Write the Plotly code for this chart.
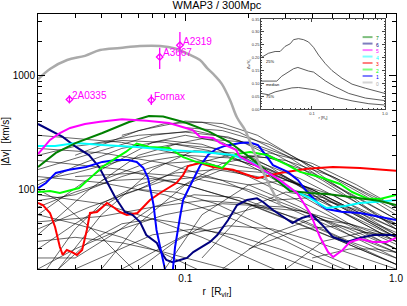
import math
import plotly.graph_objects as go

# ---------------- data ----------------
grey_x = [0.020, 0.0228, 0.0275, 0.0334, 0.0394, 0.049, 0.061, 0.0759, 0.0894, 0.1053, 0.1174, 0.127, 0.1384, 0.149, 0.163, 0.176, 0.192, 0.21, 0.226, 0.242, 0.258, 0.2815]
grey_y = [930, 1150, 1378, 1500, 1688, 1760, 1830, 1830, 1740, 1530, 1378, 1170, 1000, 850, 613, 430, 334, 223, 164, 125, 99, 73]

magenta_x = [0.02, 0.0228, 0.0254, 0.0284, 0.0334, 0.0394, 0.0501, 0.0655, 0.0837, 0.1082, 0.1174, 0.1353, 0.1462, 0.174, 0.1818, 0.2262, 0.2815, 0.339, 0.3907, 0.4358, 0.476, 0.503, 0.558, 0.6049, 0.6748, 0.777, 0.905, 1.0]
magenta_y = [205, 273, 314, 348, 377, 395, 415, 403, 385, 334, 291, 284, 257, 223, 194, 155, 121, 93.2, 62.2, 38.2, 28.2, 25.5, 29.4, 34.6, 36.7, 34.6, 34.6, 37.5]

dkgreen_x = [0.02, 0.0243, 0.0303, 0.0404, 0.0541, 0.0672, 0.0785, 0.1008, 0.1296, 0.161, 0.1818, 0.2262, 0.2606, 0.3141, 0.3907, 0.469, 0.5728, 0.6748, 0.8398, 1.0]
dkgreen_y = [158, 210, 257, 314, 393, 444, 438, 387, 323, 263, 223, 164, 129, 97, 93.4, 91.3, 87.4, 83.6, 79.3, 73.1]

cyan_x = [0.02, 0.0241, 0.0303, 0.0404, 0.0588, 0.0837, 0.1207, 0.1684, 0.2097, 0.2606, 0.3229, 0.3907, 0.469, 0.5728, 0.6748, 0.821, 1.0]
cyan_y = [242, 242, 257, 246, 237, 223, 214, 201, 171, 129, 99, 84.2, 68.8, 71.6, 76.1, 77.9, 80.9]

lime_x = [0.02, 0.0228, 0.0254, 0.0284, 0.0313, 0.0353, 0.0404, 0.0468, 0.0522, 0.0588, 0.0672, 0.0837, 0.0978, 0.1125, 0.1353, 0.1497, 0.174, 0.2028, 0.2443, 0.306, 0.3503, 0.4358, 0.5423, 0.6195, 0.727, 0.8398, 1.0]
lime_y = [95.1, 97.1, 93.2, 99.1, 103, 126, 158, 189, 214, 254, 237, 232, 193, 175, 164, 155, 205, 214, 201, 164, 143, 129, 112, 95.1, 83.6, 82.5, 89.5]

blue_x = [0.02, 0.0218, 0.0243, 0.0281, 0.0338, 0.0404, 0.0468, 0.0535, 0.0588, 0.0632, 0.0666, 0.0686, 0.0707, 0.073, 0.0767, 0.0794, 0.0831, 0.0874, 0.0894, 0.0944, 0.0976, 0.103, 0.1087, 0.1174, 0.1282, 0.1399, 0.1543, 0.1818, 0.2028, 0.2214, 0.2389, 0.2606, 0.306, 0.3428, 0.379, 0.4247, 0.469, 0.5504, 0.6748, 0.8058, 1.0]
blue_y = [103, 114, 140, 149, 158, 175, 182, 182, 175, 155, 126, 99.1, 73.1, 44.1, 28.2, 20, 14.5, 20, 31.2, 57.3, 80.9, 99.1, 121, 161, 201, 227, 242, 257, 259, 246, 205, 164, 143, 121, 95.1, 76.1, 67.4, 63.8, 62.2, 58.5, 54.0]

navy_x = [0.02, 0.0226, 0.0262, 0.0303, 0.0349, 0.039, 0.0421, 0.0464, 0.0517, 0.0563, 0.061, 0.0653, 0.0733, 0.0772, 0.0813, 0.0869, 0.0944, 0.1019, 0.1091, 0.1174, 0.131, 0.1419, 0.1597, 0.1762, 0.1962, 0.2189, 0.2339, 0.2606, 0.306, 0.3229, 0.3572, 0.3996, 0.4466, 0.5022, 0.5841, 0.6748, 0.777, 1.0]
navy_y = [377, 334, 290, 237, 201, 158, 121, 86, 63.4, 59.7, 51.8, 39.8, 33.9, 27.7, 24.0, 23.0, 24.0, 25.0, 28.2, 30.6, 34.6, 39.8, 54.0, 73.1, 80.9, 83.6, 77.7, 66.1, 54.0, 50.8, 56.2, 59.7, 48.8, 38.2, 34.6, 37.5, 39.8, 39.8]

red_x = [0.02, 0.0211, 0.0228, 0.0241, 0.0254, 0.0262, 0.0274, 0.029, 0.0306, 0.0324, 0.0341, 0.0353, 0.0381, 0.0425, 0.0455, 0.049, 0.0528, 0.0593, 0.0632, 0.068, 0.0759, 0.0828, 0.0907, 0.0976, 0.103, 0.1174, 0.1353, 0.1684, 0.2028, 0.2189, 0.2469, 0.2815, 0.379, 0.5022, 0.6748, 0.905, 1.0]
red_y = [76.1, 73.1, 62.2, 46.8, 31.2, 26.6, 29.4, 28.2, 26.6, 29.4, 44.1, 62.2, 63.4, 76.1, 70.2, 63.4, 59.7, 62.2, 70.2, 80.9, 93.2, 103, 114, 134, 161, 171, 158, 149, 132, 126, 132, 140, 152, 158, 155, 149, 146]

# individual (thin black) halo profiles
halo_x = [
    [0.02, 0.04, 0.07, 0.1, 0.15, 0.25, 0.4, 0.7, 1.0],
    [0.02, 0.035, 0.06, 0.09, 0.14, 0.22, 0.35, 0.6, 1.0],
    [0.025, 0.04, 0.07, 0.11, 0.17, 0.3, 0.5, 1.0],
    [0.02, 0.04, 0.07, 0.11, 0.18, 0.3, 0.5, 1.0],
    [0.03, 0.06, 0.1, 0.15, 0.22, 0.35, 0.6, 1.0],
    [0.05, 0.08, 0.12, 0.18, 0.3, 0.5, 1.0],
    [0.02, 0.03, 0.05, 0.08, 0.12, 0.2, 0.35, 0.6, 1.0],
    [0.02, 0.03, 0.05, 0.08, 0.13, 0.22, 0.4, 0.7, 1.0],
    [0.04, 0.06, 0.1, 0.15, 0.25, 0.4, 0.7, 1.0],
    [0.08, 0.12, 0.2, 0.3, 0.5, 0.8, 1.0],
    [0.12, 0.2, 0.3, 0.45, 0.7, 1.0],
    [0.02, 0.03, 0.05, 0.08, 0.12, 0.2, 0.35, 0.6, 1.0],
    [0.02, 0.03, 0.045, 0.07, 0.11, 0.18, 0.3, 0.5, 1.0],
    [0.02, 0.05, 0.1, 0.2, 0.4, 1.0],
    [0.02, 0.04, 0.08, 0.15, 0.3, 0.6, 1.0],
    [0.02, 0.05, 0.1, 0.2, 0.4, 1.0],
    [0.02, 0.04, 0.08, 0.15, 0.3, 0.5, 0.7],
    [0.02, 0.04, 0.07, 0.12, 0.2, 0.3],
    [0.02, 0.03, 0.05, 0.08, 0.12],
    [0.03, 0.06, 0.1, 0.2, 0.4, 0.7, 1.0],
    [0.02, 0.03, 0.05, 0.08, 0.15, 0.3, 0.6, 1.0],
    [0.025, 0.035, 0.05, 0.07, 0.1, 0.15, 0.25, 0.4],
    [0.06, 0.09, 0.14, 0.22, 0.35, 0.6, 1.0],
    [0.15, 0.25, 0.4, 0.6, 1.0],
    [0.3, 0.45, 0.7, 1.0],
    [0.02, 0.035, 0.06, 0.09, 0.14, 0.25, 0.45, 0.7],
    [0.02, 0.03, 0.045, 0.07, 0.1, 0.18, 0.3, 0.55, 1.0],
    [0.04, 0.07, 0.1, 0.16, 0.25, 0.45, 0.8, 1.0],
    [0.06, 0.1, 0.16, 0.25, 0.4, 0.7, 1.0],
    [0.09, 0.15, 0.25, 0.4, 0.65, 1.0],
    [0.02, 0.03, 0.05, 0.08, 0.13, 0.22, 0.4, 0.7, 1.0],
    [0.035, 0.06, 0.1, 0.16, 0.26, 0.45, 0.8, 1.0],
    [0.1, 0.15, 0.25, 0.4, 0.7, 1.0],
    [0.07, 0.12, 0.2, 0.35, 0.6, 1.0],
    [0.2, 0.3, 0.5, 0.8, 1.0],
    [0.02, 0.03, 0.05, 0.08, 0.13, 0.2],
    [0.05, 0.07, 0.1, 0.16, 0.26, 0.45, 0.75, 1.0],
    [0.2, 0.35, 0.55, 0.8, 1.0],
    [0.02, 0.025, 0.03, 0.04, 0.05, 0.06],
    [0.022, 0.03, 0.04, 0.06, 0.09, 0.14, 0.22, 0.4, 0.7, 1.0],
    [0.02, 0.04, 0.07, 0.12, 0.2, 0.35, 0.6, 1.0],
    [0.03, 0.045, 0.07, 0.11, 0.17, 0.28, 0.45, 0.6],
    [0.4, 0.6, 0.8, 1.0],
    [0.25, 0.4, 0.6, 1.0],
    [0.02, 0.03, 0.05, 0.08, 0.12, 0.2, 0.35, 0.6, 1.0],
]
halo_y = [
    [60, 150, 260, 300, 260, 160, 90, 50, 35],
    [40, 100, 200, 250, 230, 150, 90, 50, 30],
    [20, 60, 150, 220, 210, 130, 70, 35],
    [150, 220, 300, 330, 270, 170, 100, 50],
    [200, 330, 400, 380, 300, 180, 90, 45],
    [300, 380, 390, 320, 200, 110, 55],
    [110, 160, 230, 270, 250, 180, 110, 65, 40],
    [80, 90, 130, 170, 180, 150, 100, 60, 45],
    [20, 50, 110, 150, 140, 100, 60, 40],
    [20, 60, 110, 120, 90, 55, 45],
    [25, 70, 95, 85, 55, 38],
    [30, 50, 90, 120, 130, 110, 70, 40, 25],
    [25, 25, 40, 70, 90, 85, 60, 40, 22],
    [300, 260, 200, 130, 70, 30],
    [230, 210, 170, 120, 70, 40, 28],
    [180, 150, 110, 75, 45, 22],
    [130, 115, 90, 60, 35, 22, 17],
    [90, 75, 55, 38, 25, 18],
    [60, 50, 38, 27, 19],
    [130, 140, 130, 100, 60, 38, 28],
    [20, 30, 45, 60, 75, 70, 50, 35],
    [20, 35, 50, 55, 50, 40, 28, 20],
    [20, 35, 55, 70, 65, 45, 30],
    [20, 40, 55, 50, 38],
    [20, 35, 42, 40],
    [45, 70, 100, 95, 75, 45, 27, 19],
    [70, 95, 120, 125, 110, 80, 55, 35, 22],
    [120, 180, 200, 190, 150, 90, 50, 42],
    [100, 160, 200, 190, 140, 80, 55],
    [100, 170, 210, 170, 110, 70],
    [200, 240, 270, 260, 220, 160, 95, 55, 38],
    [250, 300, 320, 290, 210, 120, 60, 48],
    [350, 330, 250, 160, 90, 60],
    [230, 280, 260, 180, 110, 65],
    [200, 180, 130, 85, 70],
    [35, 38, 34, 28, 22, 18],
    [20, 28, 40, 48, 45, 33, 24, 20],
    [30, 45, 48, 40, 33],
    [100, 80, 60, 38, 25, 18],
    [20, 45, 75, 110, 140, 150, 130, 85, 52, 38],
    [52, 58, 70, 80, 75, 55, 35, 25],
    [20, 28, 40, 45, 40, 30, 22, 18],
    [25, 30, 30, 28],
    [80, 85, 70, 50],
    [120, 140, 180, 210, 215, 190, 125, 75, 48],
]

# observed clusters
obs_names = ["A2319", "A3667", "Fornax", "2A0335"]
obs_x = [0.0943, 0.0756, 0.069, 0.0282]
obs_y = [1861, 1467, 612, 620]
obs_hi = [2427, 1767, 685, 676]
obs_lo = [1338, 1148, 554, 573]

# inset: percentile curves
inset_x_top = [0.02, 0.0252, 0.0312, 0.0365, 0.0428, 0.0502, 0.0558, 0.0653, 0.0766, 0.0897, 0.1051, 0.1232, 0.1522, 0.188, 0.2583, 0.3546, 0.5414, 0.7437, 1.0]
inset_y_top = [0.200, 0.217, 0.224, 0.224, 0.244, 0.254, 0.270, 0.274, 0.270, 0.261, 0.240, 0.210, 0.177, 0.150, 0.120, 0.097, 0.081, 0.070, 0.061]
inset_x_med = [0.02, 0.0329, 0.0385, 0.0476, 0.0558, 0.064, 0.0766, 0.0897, 0.1051, 0.1232, 0.1522, 0.209, 0.3191, 0.5414, 1.0]
inset_y_med = [0.109, 0.109, 0.128, 0.144, 0.157, 0.162, 0.154, 0.148, 0.144, 0.130, 0.110, 0.0865, 0.061, 0.043, 0.033]
inset_x_low = [0.02, 0.0252, 0.0312, 0.0428, 0.0529, 0.0653, 0.0897, 0.1109, 0.1522, 0.2324, 0.3546, 0.6017, 1.0]
inset_y_low = [0.061, 0.056, 0.067, 0.0745, 0.0825, 0.084, 0.080, 0.0745, 0.061, 0.044, 0.032, 0.021, 0.016]
inset_labels = ["25%", "median", "75%"]
inset_label_x = [0.0262, 0.0285, 0.0262]
inset_label_y = [0.184, 0.095, 0.048]

legend_labels = ["7", "6", "5", "4", "3", "2", "1", "0"]

# ---------------- styling ----------------
C_GREY = "#aaaaaa"
C_MAG = "#ff00ff"
C_DKG = "#008000"
C_CYAN = "#00ffff"
C_LIME = "#00ff00"
C_BLUE = "#0000ff"
C_NAVY = "#00007f"
C_RED = "#ff0000"
legend_colors = [C_DKG, C_NAVY, C_MAG, C_CYAN, C_RED, C_LIME, C_BLUE, C_GREY]
FONT = "Liberation Sans, Arial, sans-serif"

fig = go.Figure()

for hx, hy in zip(halo_x, halo_y):
    fig.add_trace(go.Scatter(x=hx, y=hy, mode="lines",
                             line=dict(color="black", width=0.6),
                             hoverinfo="skip", showlegend=False))

for xs, ys, col in [(red_x, red_y, C_RED), (navy_x, navy_y, C_NAVY),
                    (blue_x, blue_y, C_BLUE), (lime_x, lime_y, C_LIME),
                    (cyan_x, cyan_y, C_CYAN), (dkgreen_x, dkgreen_y, C_DKG),
                    (magenta_x, magenta_y, C_MAG)]:
    fig.add_trace(go.Scatter(x=xs, y=ys, mode="lines",
                             line=dict(color=col, width=2),
                             showlegend=False))

fig.add_trace(go.Scatter(x=grey_x, y=grey_y, mode="lines",
                         line=dict(color=C_GREY, width=2.5, shape="spline"),
                         showlegend=False))

fig.add_trace(go.Scatter(
    x=obs_x, y=obs_y, mode="markers",
    marker=dict(symbol="diamond-open", size=5, color=C_MAG, line=dict(width=1.3)),
    error_y=dict(type="data", symmetric=False,
                 array=[h - v for h, v in zip(obs_hi, obs_y)],
                 arrayminus=[v - l for l, v in zip(obs_lo, obs_y)],
                 color=C_MAG, thickness=1.3, width=0),
    showlegend=False))

# annotations on log axes are positioned in log10 units
for n, xv, yv in zip(obs_names, obs_x, obs_y):
    fig.add_annotation(x=math.log10(xv), y=math.log10(yv), xref="x", yref="y", text=n,
                       showarrow=False, xanchor="left", yanchor="middle", xshift=1, yshift=4,
                       font=dict(family=FONT, size=10, color=C_MAG))

# inset
for xs, ys in [(inset_x_top, inset_y_top), (inset_x_med, inset_y_med), (inset_x_low, inset_y_low)]:
    fig.add_trace(go.Scatter(x=xs, y=ys, mode="lines", xaxis="x2", yaxis="y2",
                             line=dict(color="#333333", width=0.8), showlegend=False))
for t, xv, yv in zip(inset_labels, inset_label_x, inset_label_y):
    fig.add_annotation(x=math.log10(xv), y=yv, xref="x2", yref="y2", text=t, showarrow=False,
                       borderpad=0, font=dict(family=FONT, size=4, color="black"))

leg_y0 = 0.80
leg_dy = 0.072
for i, col in enumerate(legend_colors):
    yy = leg_y0 - i * leg_dy
    fig.add_shape(type="line", xref="x2 domain", yref="y2 domain",
                  x0=0.82, x1=0.90, y0=yy, y1=yy,
                  line=dict(color=col, width=2), opacity=0.5)
legend_text = "<br>".join(f"<span style='color:{c}'>{l}</span>"
                          for l, c in zip(legend_labels, legend_colors))
fig.add_annotation(x=0.92, y=leg_y0 + leg_dy / 2, xref="x2 domain", yref="y2 domain",
                   text=legend_text, showarrow=False, xanchor="left", yanchor="top",
                   align="left", borderpad=0,
                   font=dict(family=FONT, size=5, color="black"))

main_minor_x = [0.02, 0.03, 0.04, 0.05, 0.06, 0.07, 0.08, 0.09, 0.2, 0.3, 0.4, 0.5, 0.6, 0.7, 0.8, 0.9]
main_minor_y = [20, 30, 40, 50, 60, 70, 80, 90, 200, 300, 400, 500, 600, 700, 800, 900, 2000, 3000]

axis_common = dict(showline=True, linecolor="black", linewidth=1, mirror="allticks",
                   ticks="inside", tickcolor="black", showgrid=False, zeroline=False,
                   automargin=False,
                   tickfont=dict(family=FONT, size=10, color="black"))

fig.update_layout(
    template="none",
    width=407, height=306,
    margin=dict(l=38, r=11, t=14, b=37),
    paper_bgcolor="white", plot_bgcolor="white",
    showlegend=False,
    title=dict(text="WMAP3 / 300Mpc", x=0.533, xanchor="center", y=0.982, yanchor="middle",
               font=dict(family=FONT, size=11, color="black")),
    xaxis=dict(type="log", range=[-1.69897, 0], tickmode="array",
               tickvals=[0.1, 1.0], ticktext=["0.1", "1.0"], ticklen=7,
               minor=dict(tickmode="array", tickvals=main_minor_x, ticklen=4, ticks="inside", tickcolor="black"),
               title=dict(text="r  [R<sub>vir</sub>]", standoff=4,
                          font=dict(family=FONT, size=10, color="black")),
               domain=[0, 1], **axis_common),
    yaxis=dict(type="log", range=[1.30103, 3.544], tickmode="array",
               tickvals=[100, 1000], ticktext=["100", "1000"], ticklen=7,
               minor=dict(tickmode="array", tickvals=main_minor_y, ticklen=4, ticks="inside", tickcolor="black"),
               title=dict(text="|Δv|  [km/s]", standoff=6,
                          font=dict(family=FONT, size=10, color="black")),
               domain=[0, 1], **axis_common),
    xaxis2=dict(type="log", range=[-1.69897, 0], anchor="y2", domain=[0.623, 0.969],
                showline=True, linecolor="#444444", linewidth=0.6, mirror="allticks",
                ticks="inside", tickcolor="#444444", ticklen=3, showgrid=False, zeroline=False,
                automargin=False,
                tickmode="array", tickvals=[0.1, 1.0], ticktext=["0.1", "1.0"],
                minor=dict(tickmode="array", tickvals=main_minor_x, ticklen=1.5, ticks="inside", tickcolor="#444444"),
                tickfont=dict(family=FONT, size=4, color="#333333"),
                title=dict(text="r [R<sub>v</sub>]", standoff=1, font=dict(family=FONT, size=4, color="#333333"))),
    yaxis2=dict(range=[0, 0.35], anchor="x2", domain=[0.627, 0.98],
                showline=True, linecolor="#444444", linewidth=0.6, mirror="allticks",
                ticks="inside", tickcolor="#444444", ticklen=3, showgrid=False, zeroline=False,
                automargin=False,
                tickmode="linear", tick0=0, dtick=0.05, tickformat=".2f",
                minor=dict(dtick=0.01, ticklen=1.5, ticks="inside", tickcolor="#444444"),
                tickfont=dict(family=FONT, size=4, color="#333333"),
                title=dict(text="Δv/V<sub>c</sub>", standoff=1, font=dict(family=FONT, size=4, color="#333333"))),
)

fig.write_html("out.html", config={"displayModeBar": False},
               post_script="document.body.style.margin='0';document.body.style.overflow='hidden';")
